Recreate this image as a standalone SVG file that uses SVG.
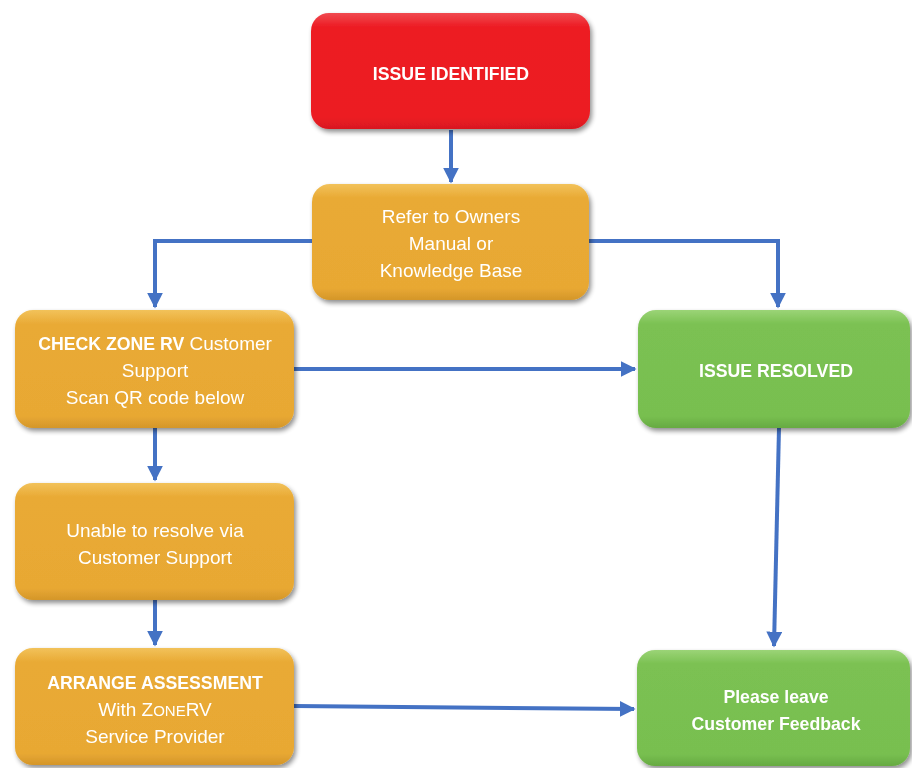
<svg xmlns="http://www.w3.org/2000/svg" width="912" height="768" viewBox="0 0 912 768">
<style>
.t{font-family:"Liberation Sans",Arial,sans-serif;font-size:19px;fill:#fff;text-anchor:middle}
.b{font-weight:bold;font-size:17.7px}
.c{fill:none;stroke:#4472C4;stroke-width:4}
</style>
<defs>
<filter id="sh" x="-10%" y="-10%" width="125%" height="130%">
<feGaussianBlur in="SourceAlpha" stdDeviation="2.5"/>
<feOffset dx="2" dy="3"/>
<feComponentTransfer><feFuncA type="linear" slope="0.45"/></feComponentTransfer>
<feMerge><feMergeNode/><feMergeNode in="SourceGraphic"/></feMerge>
</filter>
<linearGradient id="gr" x1="0" y1="0" x2="0" y2="1">
<stop offset="0" stop-color="#F04A50"/><stop offset="0.12" stop-color="#ED1C24"/><stop offset="0.9" stop-color="#EC1C24"/><stop offset="1" stop-color="#D8181F"/>
</linearGradient>
<linearGradient id="go" x1="0" y1="0" x2="0" y2="1">
<stop offset="0" stop-color="#F2C25A"/><stop offset="0.12" stop-color="#E9AA35"/><stop offset="0.9" stop-color="#E8A833"/><stop offset="1" stop-color="#D4962A"/>
</linearGradient>
<linearGradient id="gg" x1="0" y1="0" x2="0" y2="1">
<stop offset="0" stop-color="#9BD477"/><stop offset="0.12" stop-color="#7BC152"/><stop offset="0.9" stop-color="#78BF50"/><stop offset="1" stop-color="#66AA42"/>
</linearGradient>
<marker id="ah" viewBox="0 0 10 10" refX="9" refY="5" markerWidth="4" markerHeight="4" orient="auto" markerUnits="strokeWidth">
<path d="M0,0 L10,5 L0,10 z" fill="#4472C4"/>
</marker>
</defs>

<g id="connectors">
<path class="c" d="M451,130 V182" marker-end="url(#ah)"/>
<path class="c" d="M312,241 H155 V307" marker-end="url(#ah)"/>
<path class="c" d="M589,241 H778 V307" marker-end="url(#ah)"/>
<path class="c" d="M294,369 H635" marker-end="url(#ah)"/>
<path class="c" d="M155,428 V480" marker-end="url(#ah)"/>
<path class="c" d="M779,428 L774,646" marker-end="url(#ah)"/>
<path class="c" d="M155,600 V645" marker-end="url(#ah)"/>
<path class="c" d="M294,706 L634,709" marker-end="url(#ah)"/>
</g>

<g id="issue-identified" filter="url(#sh)">
<rect x="311" y="13" width="279" height="116" rx="18" fill="url(#gr)"/>
<text class="t b" x="451" y="80">ISSUE IDENTIFIED</text>
</g>

<g id="refer" filter="url(#sh)">
<rect x="312" y="184" width="277" height="116" rx="18" fill="url(#go)"/>
<text class="t" x="451" y="223">Refer to Owners</text>
<text class="t" x="451" y="250">Manual or</text>
<text class="t" x="451" y="277">Knowledge Base</text>
</g>

<g id="check" filter="url(#sh)">
<rect x="15" y="310" width="279" height="118" rx="18" fill="url(#go)"/>
<text class="t" x="155" y="350"><tspan class="b">CHECK ZONE RV</tspan> Customer</text>
<text class="t" x="155" y="377">Support</text>
<text class="t" x="155" y="404">Scan QR code below</text>
</g>

<g id="resolved" filter="url(#sh)">
<rect x="638" y="310" width="272" height="118" rx="18" fill="url(#gg)"/>
<text class="t b" x="776" y="377">ISSUE RESOLVED</text>
</g>

<g id="unable" filter="url(#sh)">
<rect x="15" y="483" width="279" height="117" rx="18" fill="url(#go)"/>
<text class="t" x="155" y="537">Unable to resolve via</text>
<text class="t" x="155" y="564">Customer Support</text>
</g>

<g id="arrange" filter="url(#sh)">
<rect x="15" y="648" width="279" height="117" rx="18" fill="url(#go)"/>
<text class="t b" x="155" y="689">ARRANGE ASSESSMENT</text>
<text class="t" x="155" y="716">With Z<tspan font-size="15">ONE</tspan>RV</text>
<text class="t" x="155" y="743">Service Provider</text>
</g>

<g id="feedback" filter="url(#sh)">
<rect x="637" y="650" width="273" height="116" rx="18" fill="url(#gg)"/>
<text class="t b" x="776" y="703">Please leave</text>
<text class="t b" x="776" y="730">Customer Feedback</text>
</g>
</svg>
